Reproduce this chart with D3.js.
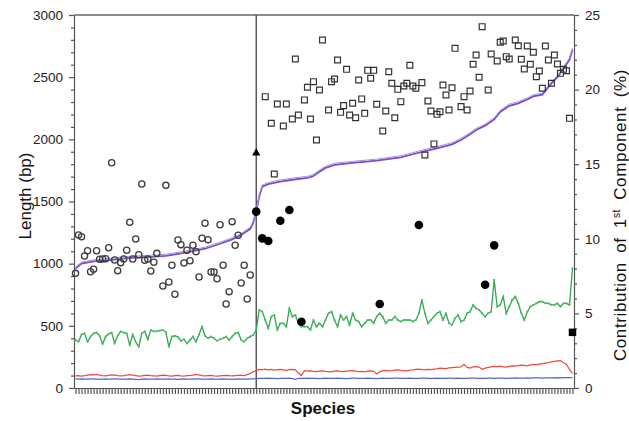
<!DOCTYPE html>
<html>
<head>
<meta charset="utf-8">
<script src="https://cdn.jsdelivr.net/npm/d3@7"></script>
<style>
  body { margin: 0; background: #fff; }
  svg { display: block; font-family: Arial, "Liberation Sans", sans-serif; }
  .tick text { fill: #222; font-size: 13.5px; }
  .axis path, .axis line { stroke: #555; stroke-width: 1.2; }
</style>
</head>
<body>
<svg id="chart" width="629" height="421"></svg>
<script>
// ------------------------------
// DATA
// ------------------------------
// species are just positions along the x axis, 61 in group 1, 105 in group 2
var groupSplit = 60;

// lengths (bp), one value per species
var greenLeft = [386,372,430,440,372,413,440,446,420,355,
                 413,435,446,359,420,455,446,440,345,430,
                 370,332,440,455,390,466,455,458,462,466,
                 450,332,413,420,410,378,392,359,386,413,
                 372,430,493,420,400,413,400,380,392,400,
                 413,386,413,440,446,386,372,400,413,426,
                 466];
var greenRight = [627,614,547,480,574,587,467,520,520,493,
                  641,574,587,520,493,493,493,467,547,493,
                  520,493,547,601,614,547,493,587,547,574,
                  507,601,547,534,493,520,547,547,520,574,
                  601,574,520,547,547,574,547,534,547,547,
                  547,534,547,600,708,601,520,547,574,601,
                  614,547,601,520,507,560,587,534,547,601,
                  614,668,641,627,601,574,601,614,869,654,
                  668,735,600,654,708,735,681,601,547,614,
                  654,668,681,694,694,681,681,668,668,681,
                  654,681,681,668,963];

var redLeft = [98,100,96,99,104,108,106,110,104,100,
               98,102,106,104,100,97,99,103,108,104,
               100,96,98,102,104,100,98,95,100,104,
               102,98,96,100,102,98,96,99,101,104,
               110,106,100,98,100,102,98,96,98,100,
               102,99,97,100,102,104,100,108,118,130,
               140];
var redRight = [150,148,152,146,150,144,148,150,146,142,
                148,150,146,120,100,140,136,138,134,132,
                136,138,134,132,130,136,138,134,132,136,
                138,140,136,132,134,130,136,138,134,112,
                130,140,142,138,140,144,146,142,140,138,
                144,146,150,152,148,146,150,148,152,154,
                160,158,156,162,164,166,168,170,190,166,
                160,170,172,168,150,160,166,170,174,172,
                176,170,168,174,178,176,180,184,182,178,
                186,190,188,192,196,200,204,210,214,218,
                220,206,190,150,118];

var blueLeft = [74,72,73,71,72,74,73,72,70,72,
                73,72,71,73,74,72,71,72,73,72,
                70,68,72,73,72,71,72,74,72,71,
                72,73,72,71,70,72,73,72,71,72,
                74,73,72,71,72,73,72,71,72,73,
                72,71,70,72,73,72,71,72,73,74,
                76];
var blueRight = [78,77,78,79,78,77,76,78,77,78,
                 79,76,70,78,77,78,79,78,77,78,
                 76,78,79,78,77,78,79,78,77,76,
                 78,79,80,78,77,78,79,78,77,76,
                 78,79,78,77,78,79,80,78,77,78,
                 79,78,77,78,79,80,78,77,78,79,
                 78,77,78,79,80,78,79,78,77,78,
                 79,80,79,78,77,78,79,80,78,79,
                 80,79,78,79,80,81,80,79,80,81,
                 80,81,82,81,80,81,82,81,82,83,
                 82,83,84,84,84];

// sorted length curve, [species, bp]
var purple = [[0,960],[2,1000],[6,1018],[10,1025],[17,1045],[25,1055],[30,1062],
              [37,1090],[43,1120],[48,1160],[52,1195],[55,1230],[58,1280],[59,1330],
              [60,1420],[61,1540],[62,1620],[64,1640],[68,1660],[72,1675],[77,1690],
              [79,1705],[81,1740],[83,1770],[86,1795],[92,1810],[100,1828],[108,1855],
              [112,1880],[116,1905],[120,1928],[125,1960],[128,1995],[131,2040],
              [133,2075],[136,2110],[139,2160],[141,2220],[144,2270],[147,2290],
              [150,2320],[152,2345],[155,2360],[157,2420],[158,2450],[160,2500],
              [162,2570],[164,2640],[165,2720]];

// scattered lengths, [species, bp]
var openCircles = [[0,922],[1,1231],[2,1217],[3,1062],[4,1104],[5,935],[6,955],[7,1104],
                   [8,1035],[9,1038],[10,1040],[11,1128],[12,1812],[13,1029],[14,943],
                   [15,1008],[16,1038],[17,1108],[18,1333],[19,1038],[20,1198],[21,1072],
                   [22,1641],[23,1027],[24,1038],[25,941],[26,1011],[27,1083],[29,820],
                   [30,1630],[31,853],[32,987],[33,754],[34,1190],[35,1153],[36,1005],
                   [37,1108],[38,1024],[39,1148],[40,1096],[41,893],[42,1204],[43,1325],
                   [44,1193],[45,933],[46,933],[47,879],[48,1313],[49,987],[50,676],
                   [51,775],[52,1338],[53,1148],[54,1228],[55,845],[56,987],[57,716],[58,909]];

var openSquares = [[63,2343],[65,2129],[66,1721],[67,2284],[69,2107],[70,2284],[72,2164],
                   [73,2646],[74,2196],[76,2317],[77,2419],[78,2164],[79,2464],[80,1995],
                   [81,2397],[82,2799],[84,2236],[85,2464],[86,2485],[87,2638],[88,2217],
                   [89,2271],[90,2563],[91,2196],[92,2290],[93,2174],[94,2477],[95,2325],
                   [96,2209],[97,2555],[98,2491],[99,2555],[100,2282],[102,2067],[103,2228],
                   [104,2544],[105,2451],[106,2174],[107,2402],[108,2303],[109,2429],
                   [110,2451],[111,2596],[112,2429],[113,2411],[115,2456],[116,1874],
                   [117,2308],[118,2228],[119,1963],[120,2201],[121,2222],[122,2437],
                   [123,2357],[124,2236],[125,2415],[126,2732],[128,2263],[129,2343],
                   [130,2236],[131,2389],[132,2604],[133,2678],[134,2499],[135,2906],
                   [137,2397],[138,2686],[140,2630],[141,2781],[142,2791],[143,2665],
                   [144,2646],[146,2799],[147,2753],[148,2644],[149,2566],[150,2751],
                   [151,2604],[152,2700],[153,2504],[154,2550],[155,2411],[156,2751],
                   [157,2638],[158,2451],[159,2678],[160,2606],[161,2531],[162,2563],
                   [163,2552],[164,2169]];

// contribution of 1st component (%), [species, %]
var filledCircles = [[60,11.82],[62,10.03],[64,9.85],[68,11.21],[71,11.93],[75,4.44],
                     [101,5.63],[114,10.92],[136,6.92],[139,9.56]];
var filledSquares = [[165,3.73]];
var triangles = [[60,15.75]];

var leftTicks = [0,500,1000,1500,2000,2500,3000];
var rightTicks = [0,5,10,15,20,25];

// ------------------------------
// SCALES / AXES
// ------------------------------
var green = greenLeft.concat(greenRight),
    red = redLeft.concat(redRight),
    blue = blueLeft.concat(blueRight);
var N = green.length;

var svg = d3.select("#chart");
var L = 74, R = 574, T = 15, B = 388;

var x = d3.scaleLinear().domain([-0.5, N - 0.5]).range([L, R]);
var yL = d3.scaleLinear().domain([0, 3000]).range([B, T]);
var yR = d3.scaleLinear().domain([0, 25]).range([B, T]);

// top frame line
svg.append("line").attr("x1", L).attr("x2", R).attr("y1", T).attr("y2", T)
    .attr("stroke", "#666").attr("stroke-width", 1.5);

// left axis, major + minor ticks
svg.append("g").attr("class", "axis").attr("transform", "translate(" + L + ",0)")
    .call(d3.axisLeft(yL).tickValues(leftTicks).tickFormat(d3.format("d"))
          .tickSize(5).tickPadding(6).tickSizeOuter(0));
svg.append("g").attr("class", "axis").attr("transform", "translate(" + L + ",0)")
    .call(d3.axisLeft(yL).tickValues(d3.range(0, 3001, 100).filter(function(v){return v % 500;}))
          .tickSize(3).tickFormat("").tickSizeOuter(0))
    .select(".domain").remove();

// right axis
svg.append("g").attr("class", "axis").attr("transform", "translate(" + R + ",0)")
    .call(d3.axisRight(yR).tickValues(rightTicks).tickFormat(d3.format("d"))
          .tickSize(5).tickPadding(6).tickSizeOuter(0));
svg.append("g").attr("class", "axis").attr("transform", "translate(" + R + ",0)")
    .call(d3.axisRight(yR).tickValues(d3.range(0, 26).filter(function(v){return v % 5;}))
          .tickSize(3).tickFormat("").tickSizeOuter(0))
    .select(".domain").remove();

// bottom axis, one tick per species
svg.append("g").attr("class", "axis").attr("transform", "translate(0," + B + ")")
    .call(d3.axisBottom(x).tickValues(d3.range(N)).tickSize(6).tickFormat("").tickSizeOuter(0))
    .selectAll(".tick line").attr("stroke-width", 0.9);

// group divider
svg.append("line")
    .attr("x1", x(groupSplit)).attr("x2", x(groupSplit))
    .attr("y1", T).attr("y2", B)
    .attr("stroke", "#444").attr("stroke-width", 1.3);

// ------------------------------
// LINES
// ------------------------------
var lineL = d3.line().x(function(d, i){return x(i);}).y(function(d){return yL(d);});
var lineP = d3.line().x(function(d){return x(d[0]);}).y(function(d){return yL(d[1]);});

svg.append("path").datum(blue).attr("d", lineL)
    .attr("fill", "none").attr("stroke", "#5566cc").attr("stroke-width", 1.2);
svg.append("path").datum(red).attr("d", lineL)
    .attr("fill", "none").attr("stroke", "#ee4a40").attr("stroke-width", 1.2);
svg.append("path").datum(green).attr("d", lineL)
    .attr("fill", "none").attr("stroke", "#2fa650").attr("stroke-width", 1.3);
svg.selectAll(".gdot").data(green).enter().append("circle")
    .attr("class", "gdot")
    .attr("cx", function(d, i){return x(i);}).attr("cy", function(d){return yL(d);})
    .attr("r", 1.1).attr("fill", "#58b86c");

// purple sorted curve, drawn doubled like the original
svg.append("path").datum(purple).attr("d", lineP)
    .attr("fill", "none").attr("stroke", "#7a4cc6").attr("stroke-width", 1.8);
svg.append("path").datum(purple).attr("d", lineP)
    .attr("transform", "translate(0,-1.6)")
    .attr("fill", "none").attr("stroke", "#a795e3").attr("stroke-width", 1);

// ------------------------------
// SCATTER MARKS
// ------------------------------
svg.selectAll(".ocirc").data(openCircles).enter().append("circle")
    .attr("class", "ocirc")
    .attr("cx", function(d){return x(d[0]);}).attr("cy", function(d){return yL(d[1]);})
    .attr("r", 3.1).attr("fill", "none").attr("stroke", "#3c3c3c").attr("stroke-width", 1.3);

svg.selectAll(".osq").data(openSquares).enter().append("path")
    .attr("class", "osq")
    .attr("transform", function(d){return "translate(" + x(d[0]) + "," + yL(d[1]) + ")";})
    .attr("d", d3.symbol().type(d3.symbolSquare).size(34))
    .attr("fill", "none").attr("stroke", "#333").attr("stroke-width", 1.2);

svg.selectAll(".fcirc").data(filledCircles).enter().append("circle")
    .attr("class", "fcirc")
    .attr("cx", function(d){return x(d[0]);}).attr("cy", function(d){return yR(d[1]);})
    .attr("r", 4.3).attr("fill", "#000");

svg.selectAll(".fsq").data(filledSquares).enter().append("path")
    .attr("transform", function(d){return "translate(" + x(d[0]) + "," + yR(d[1]) + ")";})
    .attr("d", d3.symbol().type(d3.symbolSquare).size(56)).attr("fill", "#000");

svg.selectAll(".ftri").data(triangles).enter().append("path")
    .attr("transform", function(d){return "translate(" + x(d[0]) + "," + yR(d[1]) + ")";})
    .attr("d", d3.symbol().type(d3.symbolTriangle).size(30)).attr("fill", "#000");

// ------------------------------
// TITLES
// ------------------------------
svg.append("text")
    .attr("transform", "translate(31," + 196 + ") rotate(-90)")
    .attr("text-anchor", "middle").attr("font-size", 17).attr("fill", "#111")
    .text("Length (bp)");

var rt = svg.append("text")
    .attr("transform", "translate(626," + 215 + ") rotate(-90)")
    .attr("text-anchor", "middle").attr("font-size", 17).attr("fill", "#111")
    .attr("word-spacing", 4).attr("letter-spacing", 0.6);
rt.append("tspan").text("Contribution of 1");
rt.append("tspan").attr("font-size", 10).attr("dy", -6).text("st");
rt.append("tspan").attr("dy", 6).text(" Component (%)");

svg.append("text")
    .attr("x", (L + R) / 2 - 1).attr("y", 414)
    .attr("text-anchor", "middle").attr("font-size", 17).attr("font-weight", "bold").attr("fill", "#111")
    .text("Species");
</script>
</body>
</html>
